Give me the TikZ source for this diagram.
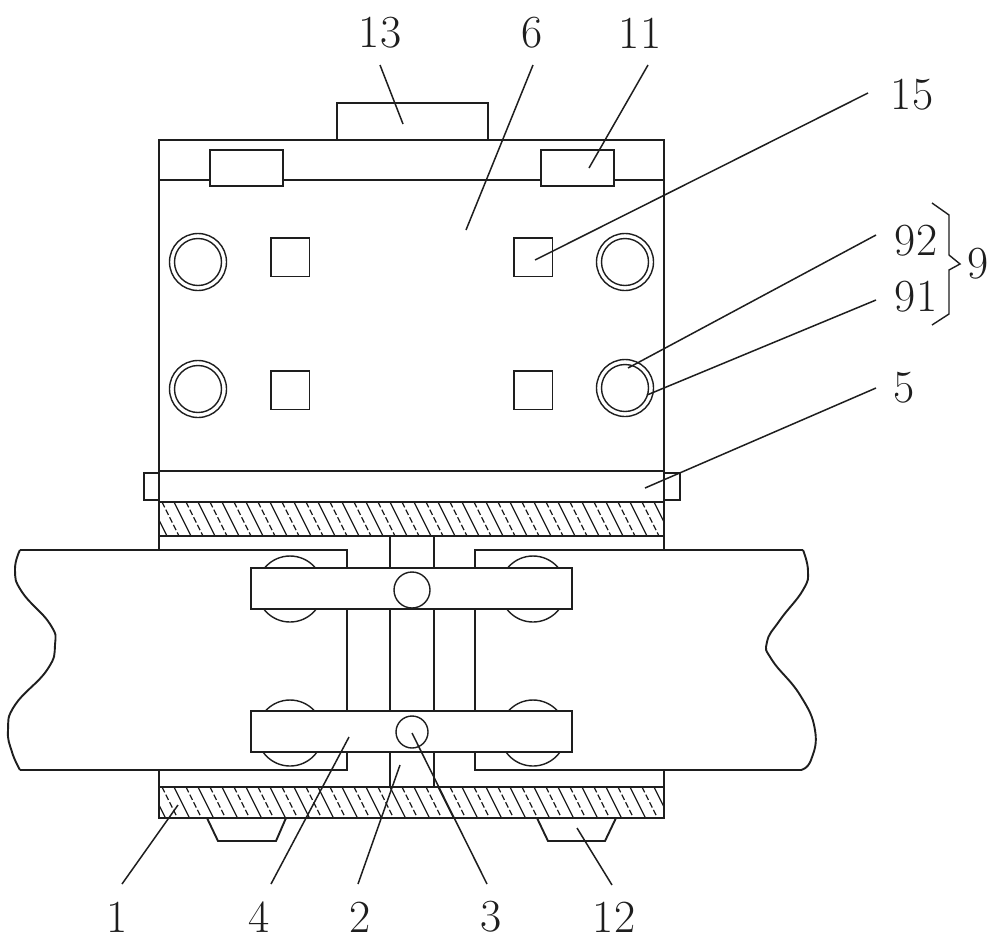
\documentclass[tikz,border=0pt]{standalone}
\begin{document}
\begin{tikzpicture}[x=1pt,y=-1pt,
  part/.style={draw=inkc,line width=1.9pt,line join=miter},
  partw/.style={part,fill=white},
  hatchline/.style={draw=inkc,line width=1.3pt},
  hatchdash/.style={draw=inkc,line width=1.3pt,dash pattern=on 6pt off 2.5pt},
  leader/.style={draw=inkc,line width=1.5pt},
  thinc/.style={draw=inkc,line width=1.4pt},
  lbl/.style={text=inkc,inner sep=0pt,font=\fontsize{46}{46}\selectfont}]
\definecolor{inkc}{RGB}{30,30,30}
\useasboundingbox (0,0) rectangle (1000,943);
\fill[white] (0,0) rectangle (1000,943);
% upper housing
\draw[part] (337,140) -- (337,103) -- (488,103) -- (488,140);
\draw[part] (159,550) -- (159,140) -- (664,140) -- (664,550);
\draw[part] (159,180) -- (664,180);
\draw[partw] (210,150) rectangle (283,186);
\draw[partw] (541,150) rectangle (614,186);
% holes
\foreach \cx/\cy in {198/262,198/389,625/262,625/388}{
  \draw[thinc] (\cx,\cy) circle (28.5);
  \draw[thinc] (\cx,\cy) circle (23.5);
}
\foreach \sx/\sy in {271/238,271/371,514/238,514/371}{
  \draw[part] (\sx,\sy) rectangle ++(38.5,38.5);
}
% rail and tabs
\draw[part] (159,471) -- (664,471);
\draw[part] (159,473) -- (144,473) -- (144,500) -- (159,500);
\draw[part] (664,473) -- (680,473) -- (680,500) -- (664,500);
% hatched plates
\begin{scope}
  \clip (159,502) rectangle (664,536);
  \foreach \hx in {150,174,...,670}{\draw[hatchline] (\hx,502) -- ++(17,34);}
  \foreach \hx in {162,186,...,670}{\draw[hatchdash] (\hx,502) -- ++(17,34);}
\end{scope}
\draw[part] (159,502) rectangle (664,536);
\begin{scope}
  \clip (159,787) rectangle (664,818);
  \foreach \hx in {150,174,...,670}{\draw[hatchline] (\hx,787) -- ++(15.5,31);}
  \foreach \hx in {162,186,...,670}{\draw[hatchdash] (\hx,787) -- ++(15.5,31);}
\end{scope}
\draw[part] (159,770) -- (159,818) -- (664,818) -- (664,770);
\draw[part] (159,787) -- (664,787);
% feet
\draw[part] (207,818) -- (218,841) -- (276,841) -- (286,818);
\draw[part] (537,818) -- (548,841) -- (605,841) -- (616,818);
% belt
\draw[part] (347,600) -- (347,550) -- (20,550);
\draw[part] plot[smooth,tension=0.8] coordinates {(20,550) (15,570) (22,592) (50,624) (55,645) (47,670) (15,705) (8,730) (12,752) (20,770)};
\draw[part] (20,770) -- (347,770) -- (347,600);
\draw[part] (475,600) -- (475,550) -- (803,550);
\draw[part] plot[smooth,tension=0.8] coordinates {(803,550) (808,571) (803,590) (780,620) (767,642) (772,660) (800,695) (815,730) (811,760) (801,770)};
\draw[part] (801,770) -- (475,770) -- (475,600);
\draw[part] (390,536) -- (390,787);
\draw[part] (434,536) -- (434,787);
% rollers and bars
\foreach \rx/\ry in {290/589,533/589,290/733,533/733}{
  \draw[thinc] (\rx,\ry) circle (33);
}
\draw[partw] (251,568) rectangle (572,609);
\draw[partw] (251,711) rectangle (572,752);
\draw[thinc] (412,590) circle (18);
\draw[thinc] (412,732) circle (16);
% labels
\node[lbl] (n13) at (380,33) {13};
\node[lbl] (n6) at (532,33) {6};
\node[lbl] (n11) at (640,33) {11};
\node[lbl] (n15) at (912,95) {15};
\node[lbl] (n92) at (916,241) {92};
\node[lbl] (n91) at (916,297) {91};
\node[lbl] (n9) at (978,264) {9};
\node[lbl] (n5) at (904,388) {5};
\node[lbl] (n1) at (117,917) {1};
\node[lbl] (n4) at (259,917) {4};
\node[lbl] (n2) at (360,917) {2};
\node[lbl] (n3) at (491,917) {3};
\node[lbl] (n12) at (614,917) {12};
% leaders
\foreach \nm/\ax/\ay/\bx/\by in {
  a13/380/65/403/124, a6/533/65/466/230, a11/648/65/589/168,
  a15/868/93/535/260, a92/876/235/628/368, a91/876/300/647/395,
  a5/876/388/645/488, a1/122/884/178/805, a4/271/884/349/737,
  a2/358/884/400/765, a3/487/884/412/733, a12/612/885/577/828}{
  \coordinate (\nm s) at (\ax,\ay);
  \coordinate (\nm t) at (\bx,\by);
  \draw[leader] (\nm s) -- (\nm t);
}
% brace
\coordinate (bt) at (932,203);
\coordinate (bb) at (932,325);
\coordinate (bp) at (960,264);
\draw[thinc] (bt) -- (949,215) -- (949,255) -- (bp) -- (949,270) -- (949,314) -- (bb);
\end{tikzpicture}
\end{document}
